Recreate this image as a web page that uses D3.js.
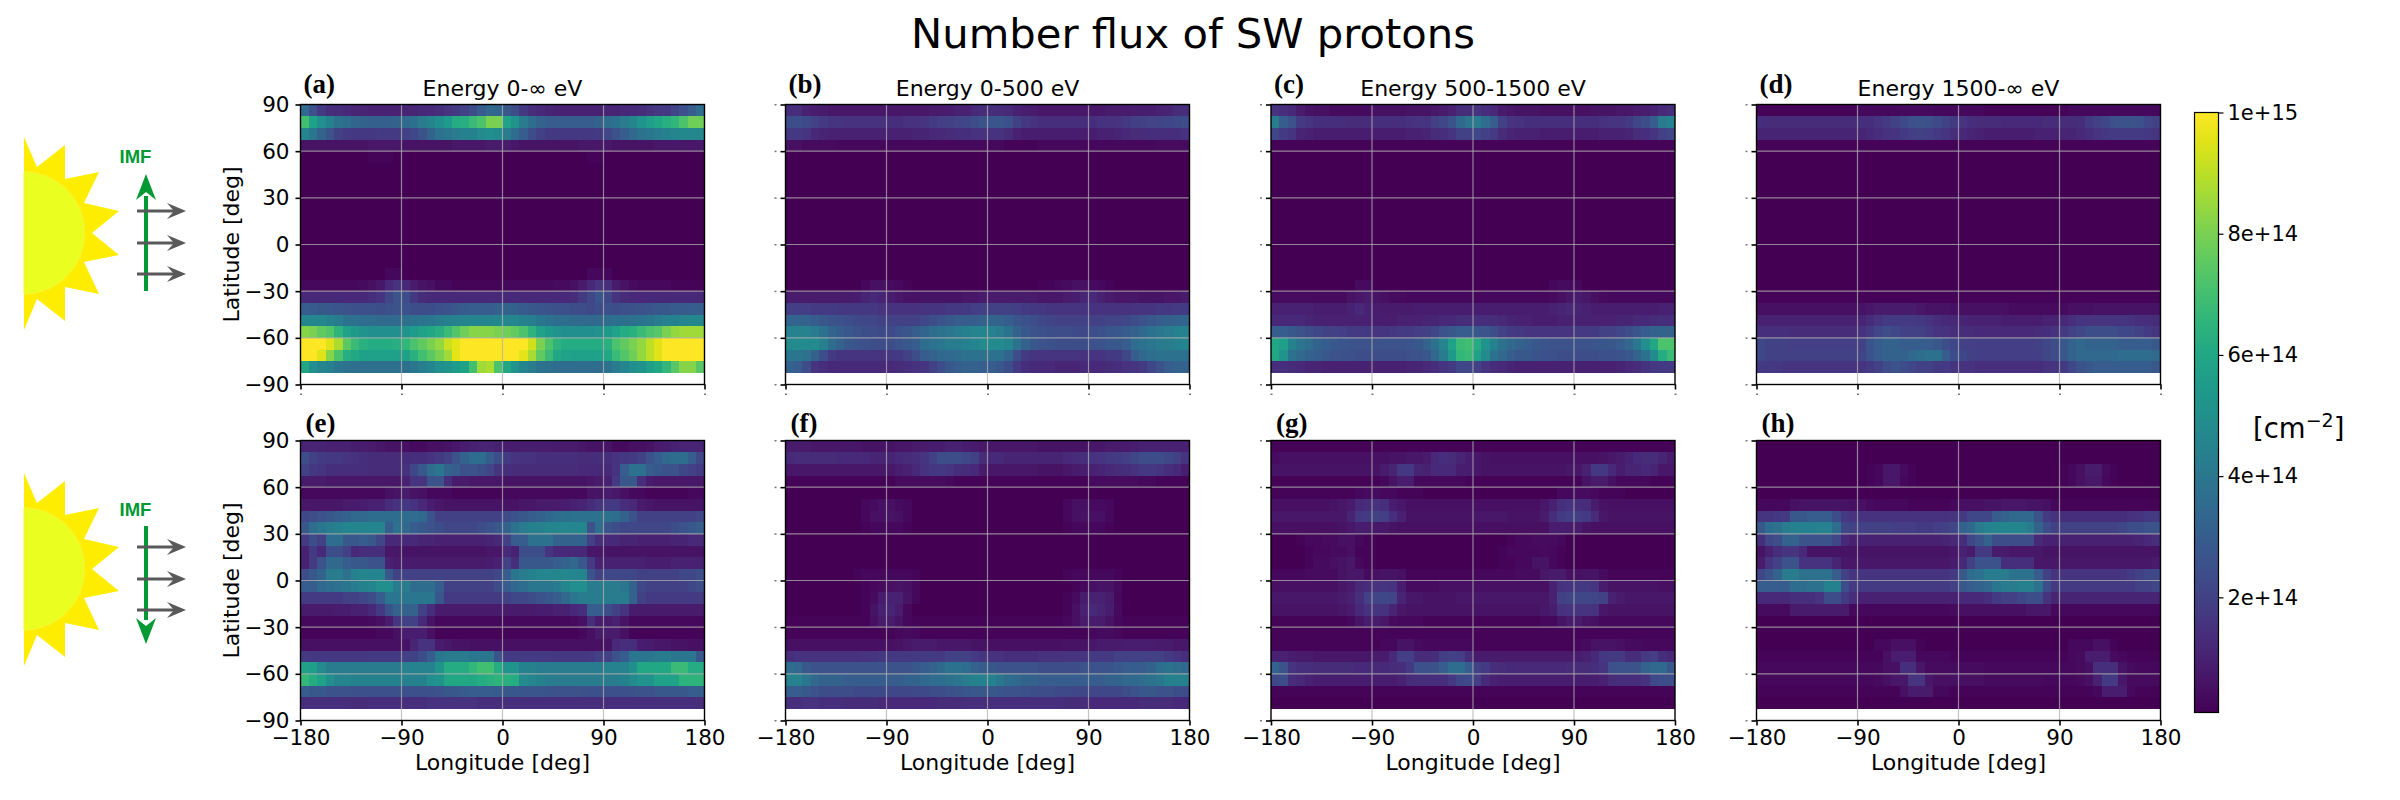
<!DOCTYPE html>
<html>
<head>
<meta charset="utf-8">
<script src="https://d3js.org/d3.v7.min.js"></script>
<style>
  body { margin: 0; background: #fff; }
  text { font-family: "DejaVu Sans"; fill: #000; }
</style>
</head>
<body>
<script>
/* flux per cell in units of 1e13 cm^-2, rows run from 90 deg down to -82.5 deg, columns are 7.5 deg wide */
var dark = [1,1,1,1,1,1,1,1,1,1,1,1,1,1,1,1,1,1,1,1,1,1,1,1,1,1,1,1,1,1,1,1,1,1,1,1,1,1,1,1,1,1,1,1,1,1,1,1];
var faint = [2,2,2,2,2,2,2,2,2,2,2,2,2,2,2,2,2,2,2,2,2,2,2,2,2,2,2,2,2,2,2,2,2,2,2,2,2,2,2,2,2,2,2,2,2,2,2,2];

var panelA = [
[35,25,18,14,13,12,11,11,10,10,10,10,11,11,12,12,14,16,18,20,24,30,34,33,28,24,17,14,12,11,10,10,10,10,10,10,11,11,12,12,13,15,17,18,21,25,30,36],
[70,58,50,44,38,36,33,32,31,31,31,32,35,37,42,46,50,55,62,63,68,72,80,80,58,52,42,36,32,30,30,30,30,30,30,32,36,38,42,46,52,56,60,63,66,72,78,78],
[46,40,32,26,20,18,17,17,17,18,18,18,20,22,26,32,38,40,42,44,44,48,50,48,42,36,30,24,20,18,17,17,17,17,17,18,22,26,30,34,38,40,42,44,46,47,47,47],
[6,6,6,6,6,6,6,6,7,7,7,7,6,6,6,6,6,6,7,7,7,7,8,8,8,7,6,6,6,6,6,6,6,7,7,7,7,6,6,6,6,6,7,7,7,7,7,7],
[1,1,1,1,1,1,1,1,2,2,2,1,1,1,1,1,1,1,1,1,1,1,1,1,1,1,1,1,1,1,1,1,1,1,2,2,1,1,1,1,1,1,1,1,1,1,1,1],
dark, dark, dark, dark, dark, dark, dark, dark, dark,
[1,1,1,1,1,1,1,1,1,1,3,3,1,1,1,1,1,1,1,1,1,1,1,1,1,1,1,1,1,1,1,1,1,1,3,3,3,1,1,1,1,1,1,1,1,1,1,1],
[3,3,3,3,3,3,3,4,5,7,12,15,12,8,6,5,3,3,2,2,2,2,2,2,3,3,3,3,3,3,4,4,5,8,12,16,14,8,6,4,3,3,3,3,2,2,2,2],
[12,12,12,12,12,12,12,12,14,16,22,26,24,17,13,12,12,12,12,12,12,12,12,12,12,12,12,12,12,12,12,12,13,18,22,27,22,16,13,12,12,12,12,12,12,12,12,12],
[30,29,28,28,27,26,25,25,25,24,25,26,26,24,24,24,25,26,28,29,30,30,30,32,32,31,29,28,27,26,25,25,24,24,23,24,25,24,25,25,26,27,28,28,29,29,30,30],
[47,47,47,44,42,38,38,36,36,35,35,35,37,38,39,40,42,44,45,46,46,46,46,47,47,47,44,43,40,38,36,36,35,34,34,35,36,37,37,38,39,40,42,44,44,46,47,47],
[82,80,76,73,65,58,54,52,50,50,50,50,52,55,58,60,63,68,73,78,82,82,82,80,78,76,72,65,58,54,52,50,50,50,50,52,54,58,62,64,68,72,74,80,84,86,86,86],
[100,100,100,95,88,75,68,64,62,62,62,63,66,72,76,80,84,92,96,100,100,100,100,100,100,100,100,93,80,72,65,62,62,62,62,62,64,72,76,80,84,90,95,100,100,100,100,100],
[100,100,95,82,72,63,60,57,57,57,57,57,57,64,70,75,80,86,96,100,100,100,100,100,100,100,96,87,76,68,60,58,57,57,57,58,60,68,73,78,84,90,95,100,100,100,100,100],
[60,50,46,44,40,38,37,37,37,37,37,37,37,40,43,46,50,52,55,58,70,86,88,72,60,52,46,42,38,37,36,36,36,36,36,36,38,42,46,50,52,56,60,66,74,82,82,74]
];

var panelB = [
[14,14,10,9,8,7,7,7,7,7,7,7,7,7,7,7,7,8,8,9,10,10,12,13,14,13,12,10,9,8,7,7,7,7,7,7,7,7,8,8,8,9,9,9,10,11,13,14],
[24,24,23,20,18,16,16,15,15,15,15,15,14,14,15,15,16,18,19,20,21,22,24,26,27,27,25,20,17,15,14,14,14,14,14,14,14,15,15,16,18,19,20,21,21,22,23,24],
[17,17,16,12,11,10,10,10,10,10,10,10,10,10,10,11,11,12,12,13,14,14,15,15,15,15,13,10,9,9,9,9,9,9,9,9,9,10,10,11,12,13,13,14,14,14,14,15],
[5,5,4,4,4,4,3,3,3,3,3,3,3,3,3,3,3,3,3,3,3,3,3,3,3,3,2,2,2,2,3,3,3,3,3,3,3,3,3,3,3,3,3,3,4,4,4,4],
dark, dark, dark, dark, dark, dark, dark, dark, dark, dark, dark,
[1,1,1,1,1,1,1,1,1,3,5,5,4,3,2,1,1,1,1,1,1,1,1,1,1,1,1,1,1,1,2,2,3,4,5,5,4,3,2,1,1,1,1,1,1,1,1,1],
[8,8,8,8,8,8,8,8,9,11,12,11,9,7,6,6,6,6,6,6,6,7,7,8,8,8,8,8,8,8,7,7,7,8,9,11,12,10,8,7,7,7,6,6,6,7,7,8],
[19,19,19,18,18,18,17,17,17,17,17,16,15,15,15,15,16,16,16,17,17,18,19,20,20,20,20,19,18,17,17,16,16,16,16,16,15,15,15,15,15,16,16,16,17,17,18,18],
[33,33,32,30,28,26,25,24,23,22,22,20,20,20,20,20,22,24,26,28,30,30,30,32,33,32,30,27,25,24,22,21,20,20,20,20,20,20,21,21,22,24,26,28,30,31,32,33],
[45,45,45,42,38,33,30,28,26,24,24,23,23,25,27,30,33,36,38,40,42,44,46,46,45,42,38,32,28,26,25,24,24,24,23,23,24,25,27,28,30,32,34,38,40,42,44,45],
[48,48,48,48,44,36,32,28,26,25,24,24,24,26,28,30,36,38,40,42,42,44,46,48,48,48,46,38,32,28,26,25,24,24,24,24,25,26,28,28,30,36,38,40,42,42,44,46],
[40,40,38,32,24,18,16,16,16,16,16,16,17,18,20,24,30,32,34,35,36,38,38,38,38,38,33,24,18,16,16,16,16,16,16,15,16,16,17,18,22,30,34,36,38,38,38,38],
[32,30,24,16,14,12,12,12,12,12,12,12,12,13,14,15,16,20,24,28,30,32,32,30,30,28,24,18,14,12,12,12,11,11,11,12,12,12,13,14,15,16,18,22,26,30,32,32]
];

var panelC = [
[16,14,12,8,6,5,5,4,4,4,4,4,5,5,5,5,6,6,6,7,8,10,13,14,16,14,12,8,7,6,6,6,5,5,5,5,5,5,6,6,6,7,7,8,9,10,12,14],
[42,30,26,18,16,14,14,14,14,13,13,13,14,14,14,14,15,16,16,20,22,26,34,40,42,36,30,20,16,15,14,14,14,14,14,14,14,14,14,15,16,16,18,22,24,30,42,44],
[22,18,16,11,10,9,9,9,9,9,9,9,9,9,9,9,10,10,11,13,14,16,20,20,22,20,18,13,11,10,10,10,9,9,9,9,9,9,9,10,10,10,11,13,14,16,20,22],
faint,
dark, dark, dark, dark, dark, dark, dark, dark, dark, dark, dark,
[1,1,1,1,1,1,1,1,1,1,4,4,1,1,1,1,1,1,1,1,1,1,1,1,1,1,1,1,1,1,1,1,1,3,4,4,3,1,1,1,1,1,1,1,1,1,1,1],
[4,4,4,4,4,4,4,4,4,6,7,8,6,5,4,4,3,3,3,3,3,3,3,3,3,3,3,3,3,3,3,3,3,4,5,7,8,7,5,4,3,3,3,3,3,3,3,3],
[10,10,10,10,10,9,9,9,9,10,12,10,9,8,8,8,8,9,9,9,9,9,9,9,9,9,9,9,9,9,9,9,9,10,11,12,11,10,9,9,9,9,9,9,9,9,10,10],
[12,12,12,12,11,10,10,10,10,10,10,10,9,9,9,10,10,10,11,11,12,12,13,14,14,14,13,12,11,10,10,9,9,9,10,10,10,10,10,10,10,11,11,12,12,13,14,14],
[30,30,28,26,24,22,20,20,19,18,18,17,16,16,17,18,18,19,20,22,26,28,30,30,28,27,24,20,18,17,16,16,16,16,16,16,18,18,18,20,20,22,24,27,30,32,32,32],
[60,56,44,40,36,32,30,28,27,26,26,26,26,26,26,26,27,28,32,38,46,58,68,70,62,52,44,38,34,32,30,28,27,26,26,26,26,26,27,27,28,30,34,40,50,60,72,72],
[60,52,38,34,32,30,28,26,25,25,24,24,24,24,24,24,25,26,28,34,42,54,66,68,58,48,38,34,30,28,28,26,25,25,24,24,24,24,24,25,25,26,28,32,38,48,62,68],
[14,14,13,12,11,11,10,10,10,10,10,10,10,10,10,10,11,11,12,14,16,18,22,22,20,16,13,12,11,10,10,10,10,10,10,10,10,10,10,10,10,11,12,13,15,17,18,18]
];

var panelD = [
[2,2,2,2,2,2,2,2,2,2,2,2,3,3,3,3,3,4,4,4,4,3,3,3,3,3,3,2,2,2,2,2,2,2,2,2,2,3,3,3,3,3,3,3,3,3,3,3],
[14,13,13,13,13,13,13,13,13,13,13,13,14,14,16,18,20,23,25,26,25,23,20,18,16,14,13,13,13,12,12,12,12,12,13,13,13,13,14,18,20,22,25,26,26,25,22,20],
[11,11,11,11,11,11,11,11,11,11,11,11,11,12,14,15,16,18,19,20,19,18,16,14,12,11,10,9,9,9,9,9,9,10,10,10,11,11,12,14,16,17,18,18,18,18,17,16],
faint,
dark, dark, dark, dark, dark, dark, dark, dark, dark, dark, dark, dark,
faint,
[5,5,5,5,5,5,5,5,5,5,5,5,6,7,8,8,8,8,8,7,6,6,6,5,5,5,5,5,5,5,4,4,4,4,4,4,4,5,5,5,6,6,6,6,6,6,6,6],
[10,10,10,10,10,10,10,10,10,10,10,10,11,13,16,18,18,18,18,17,16,14,12,12,11,10,10,10,10,9,9,9,9,9,10,10,12,14,16,16,16,16,16,16,15,14,14,13],
[14,14,14,14,13,13,13,13,13,13,13,13,15,18,22,24,22,20,20,20,18,16,15,14,13,13,12,12,12,12,12,12,12,13,14,15,18,20,22,24,24,24,24,22,22,20,18,16],
[22,20,20,20,19,19,19,19,19,19,19,19,20,26,30,32,32,30,30,30,30,28,24,22,20,19,19,19,19,19,19,19,19,20,22,24,28,32,34,32,32,32,32,30,30,30,30,28],
[22,20,20,20,20,20,20,20,20,20,20,20,21,26,30,32,32,32,34,36,38,38,30,24,22,20,19,19,19,19,19,19,19,19,22,24,28,32,34,34,34,34,34,36,36,36,36,34],
[18,17,17,16,16,16,16,16,16,16,16,16,16,18,20,24,26,24,22,20,20,18,18,16,15,15,14,14,14,14,14,14,14,14,15,16,18,22,26,28,30,30,30,30,30,30,30,28]
];

var panelE = [
[11,11,11,10,10,10,9,9,8,7,6,6,5,4,4,5,5,6,7,9,10,11,11,10,9,9,9,9,9,9,8,8,8,7,6,6,6,4,4,5,5,6,8,9,10,11,11,11],
[24,20,18,17,17,16,15,14,13,13,13,13,13,14,14,16,18,20,26,32,36,36,30,24,18,16,15,15,14,14,14,14,14,13,13,14,14,15,17,18,20,26,30,34,36,36,30,22],
[20,17,16,14,14,14,14,14,13,13,13,13,15,22,28,36,40,32,30,26,26,24,22,16,14,13,13,13,13,13,13,13,13,12,12,12,12,16,30,38,38,30,28,26,26,22,20,18],
[8,8,8,7,7,7,7,7,7,7,7,7,10,16,16,26,26,14,8,8,7,7,7,7,6,6,6,6,6,6,6,6,6,6,7,8,10,18,28,28,14,8,7,7,7,7,7,7],
[3,3,3,3,3,3,3,3,3,3,5,6,8,6,5,3,3,3,2,2,2,2,2,2,3,3,3,3,3,3,3,3,3,3,6,6,8,7,5,3,3,2,2,2,2,2,3,3],
[7,7,7,7,7,8,8,9,10,10,13,15,17,15,12,9,7,6,6,6,6,6,6,6,6,6,7,7,8,8,8,9,10,11,13,16,18,18,14,12,8,7,6,6,6,6,6,6],
[22,24,26,28,30,32,34,34,36,36,36,36,36,36,34,26,20,20,20,20,20,20,20,20,24,26,28,30,32,34,36,37,38,38,38,38,38,36,32,26,20,20,20,20,20,20,20,22],
[28,36,40,42,44,46,46,46,46,46,30,38,34,30,28,26,24,22,22,22,22,24,26,28,32,38,42,44,44,46,46,47,47,46,26,36,26,24,22,22,22,22,22,22,24,26,28,30],
[18,24,20,36,36,28,28,30,28,22,12,12,12,12,11,11,10,10,10,10,10,10,11,12,20,30,30,38,38,38,32,32,32,32,20,14,12,12,11,11,10,10,10,10,11,11,12,12],
[10,18,12,24,24,20,12,14,14,14,7,7,6,6,6,6,6,6,6,6,6,6,7,7,12,10,24,24,24,16,12,12,12,12,7,7,6,6,6,6,6,6,6,6,6,6,6,6],
[10,18,26,34,34,30,28,28,26,26,10,8,8,8,8,8,8,8,8,8,8,8,9,10,20,14,28,28,28,28,30,32,34,28,18,10,10,10,10,10,10,9,9,9,10,10,10,10],
[24,28,32,42,42,38,44,46,46,46,28,20,20,20,20,20,20,20,20,20,20,20,20,22,30,40,42,44,46,47,47,47,46,46,26,20,22,22,22,22,20,20,20,20,20,22,22,24],
[30,30,34,36,38,40,42,44,46,50,50,42,42,36,36,36,30,20,20,20,20,20,20,24,30,34,36,40,40,40,42,46,50,50,42,42,42,42,40,32,22,20,20,20,20,20,22,24],
[18,18,18,18,18,20,20,22,24,30,40,40,40,40,40,40,28,18,18,18,18,18,18,18,20,22,22,24,26,28,30,34,40,42,42,42,42,42,42,32,20,18,18,18,18,18,18,18],
[8,8,8,8,9,9,10,10,12,18,26,32,32,32,20,14,8,8,8,8,8,8,8,8,8,8,8,8,9,9,10,10,12,14,30,30,24,20,16,8,8,8,8,8,8,8,8,8],
[3,3,3,3,3,3,3,3,4,5,8,16,20,20,12,6,3,3,3,3,3,3,3,3,3,3,3,3,3,3,3,3,4,5,14,8,8,10,6,3,3,3,3,3,3,3,3,3],
[2,2,2,2,2,2,2,2,2,3,3,5,9,9,9,5,2,2,2,2,2,2,2,2,2,2,2,2,2,2,2,2,2,3,5,8,8,8,5,2,2,2,2,2,2,2,2,2],
[5,5,5,5,5,5,5,5,5,5,5,5,6,11,15,15,8,7,6,6,5,5,5,5,5,5,5,5,5,5,5,5,5,5,5,5,6,12,14,14,9,8,7,7,6,6,5,5],
[18,17,17,17,17,17,17,17,18,18,18,18,20,20,24,30,40,42,42,42,40,40,40,26,18,18,18,18,18,18,17,17,17,17,18,20,20,26,30,40,40,40,42,42,40,40,40,28],
[58,56,48,42,42,42,42,42,42,42,42,42,45,45,45,45,52,62,62,62,66,70,70,62,52,52,44,44,42,42,42,42,42,42,42,42,45,45,45,50,60,60,60,60,68,68,62,62],
[67,62,58,50,46,46,44,44,44,44,44,44,44,44,44,50,52,60,60,60,60,62,64,65,64,62,48,46,44,42,42,42,42,42,42,42,42,42,44,48,52,52,58,58,58,65,65,65],
[30,28,28,26,26,26,25,25,25,25,25,25,25,25,25,25,26,28,28,29,30,30,30,29,28,28,27,27,27,26,26,26,26,25,25,25,25,25,25,25,26,26,28,28,28,28,30,30],
[14,14,14,14,14,14,13,13,14,14,14,14,14,14,14,15,15,15,15,15,15,14,14,14,14,14,14,14,14,14,14,14,14,14,14,14,14,14,14,14,14,14,14,14,14,14,14,14]
];

var panelF = [
[8,8,8,7,7,7,7,7,7,6,6,6,6,7,7,8,8,9,9,10,10,9,8,7,7,7,7,7,7,7,6,6,6,6,6,6,7,7,8,8,8,9,10,10,10,10,10,10],
[12,13,13,13,13,13,12,12,12,12,11,11,11,12,13,14,16,20,24,24,24,22,20,13,12,12,11,11,11,11,11,11,11,12,13,14,15,16,17,18,19,22,24,24,24,22,20,16],
[7,7,7,7,7,7,7,7,7,7,7,7,7,9,10,12,15,17,17,16,14,13,12,8,7,7,7,7,7,7,6,6,6,7,8,9,10,11,12,13,14,15,17,17,16,14,12,9],
[2,2,2,2,2,2,2,2,2,2,2,2,2,4,4,4,4,4,4,3,2,2,2,2,2,2,2,2,2,2,2,2,2,2,2,2,4,4,4,4,4,4,3,3,2,2,2,2],
dark,
[1,1,1,1,1,1,1,1,1,3,4,5,5,4,3,1,1,1,1,1,1,1,1,1,1,1,1,1,1,1,1,1,1,3,5,5,4,4,3,1,1,1,1,1,1,1,1,1],
[1,1,1,1,1,1,1,1,1,3,5,5,6,5,3,1,1,1,1,1,1,1,1,1,1,1,1,1,1,1,1,1,1,3,5,6,5,5,3,1,1,1,1,1,1,1,1,1],
[1,1,1,1,1,1,1,1,1,2,3,3,3,3,2,1,1,1,1,1,1,1,1,1,1,1,1,1,1,1,1,1,1,2,3,3,3,3,2,1,1,1,1,1,1,1,1,1],
dark, dark, dark,
[1,1,1,1,1,1,1,1,2,3,3,3,3,3,3,2,1,1,1,1,1,1,1,1,1,1,1,1,1,1,1,1,1,2,3,3,3,3,3,2,1,1,1,1,1,1,1,1],
[1,1,1,1,1,1,1,1,1,2,3,4,5,6,5,3,1,1,1,1,1,1,1,1,1,1,1,1,1,1,1,1,1,1,2,3,5,6,6,4,1,1,1,1,1,1,1,1],
[1,1,1,1,1,1,1,1,1,2,4,8,10,10,6,3,1,1,1,1,1,1,1,1,1,1,1,1,1,1,1,1,1,2,4,8,10,10,8,3,1,1,1,1,1,1,1,1],
[1,1,1,1,1,1,1,1,1,2,6,10,11,8,3,1,1,1,1,1,1,1,1,1,1,1,1,1,1,1,1,1,1,2,5,10,12,11,9,4,1,1,1,1,1,1,1,1],
[2,2,2,2,2,2,2,2,2,2,5,8,8,6,3,2,2,2,2,2,2,2,2,2,2,2,2,2,2,2,2,2,2,3,5,8,8,8,6,3,2,2,2,2,2,2,2,2],
[2,2,2,2,2,2,2,2,2,2,2,2,2,3,4,3,2,2,2,2,2,2,2,2,2,2,2,2,2,2,2,2,2,2,2,2,3,4,4,3,2,2,2,2,2,2,2,2],
[5,5,5,5,5,5,5,5,5,5,5,5,5,6,7,8,8,8,7,7,7,7,6,6,5,5,5,5,5,5,5,5,5,6,6,6,7,8,8,8,9,9,9,9,8,8,7,7],
[14,15,15,15,15,15,15,15,15,16,16,17,17,17,17,18,18,18,18,20,20,20,18,16,15,15,14,14,14,14,15,15,15,16,16,16,18,18,18,20,20,20,20,20,20,18,16,14],
[36,34,28,26,26,26,26,26,26,26,26,26,26,26,26,28,30,32,34,38,38,36,32,30,28,26,26,26,26,26,24,24,24,24,24,26,26,26,26,28,30,30,30,32,36,38,36,34],
[44,45,40,34,32,32,32,30,30,30,30,30,30,30,32,32,34,36,36,38,40,42,44,44,44,40,36,34,32,32,30,30,30,30,30,30,30,30,32,32,34,34,36,38,40,44,44,44],
[30,30,28,26,24,24,24,24,23,23,23,23,22,22,22,23,23,24,24,25,26,27,28,28,28,27,26,26,25,24,24,24,23,23,22,22,22,22,22,22,24,26,28,28,26,26,24,24],
[14,14,15,15,14,14,14,13,13,13,13,12,12,12,12,12,12,12,13,13,13,14,14,14,14,14,14,14,14,14,14,14,14,13,13,13,12,12,12,12,12,12,13,13,13,13,12,12]
];

var panelG = [
faint,
[4,5,5,5,5,5,5,5,5,5,5,5,5,5,6,6,7,7,8,12,14,13,11,9,7,6,5,5,5,5,5,5,5,5,5,5,5,5,5,6,7,8,10,12,13,13,11,8],
[6,6,6,6,6,6,6,6,6,6,6,6,6,8,11,17,17,11,10,12,12,12,9,9,7,6,6,6,6,6,6,6,6,6,6,7,7,10,17,17,12,9,11,11,12,11,7,7],
[2,2,2,2,2,2,2,2,2,2,2,2,2,3,6,9,9,3,3,3,3,3,3,2,2,2,2,2,2,2,2,2,2,2,2,2,2,6,8,8,5,3,3,3,3,2,2,2],
[2,2,2,2,2,2,2,2,2,2,3,4,4,3,3,2,2,2,1,1,1,1,1,1,1,1,1,1,1,1,1,1,1,1,3,3,4,4,3,2,2,2,1,1,1,1,1,1],
[5,5,5,5,5,5,5,6,7,8,12,13,15,14,9,7,5,5,5,5,5,5,5,5,5,5,5,5,5,5,5,5,7,10,14,15,14,13,8,6,5,5,5,5,5,5,5,5],
[7,7,7,7,7,7,7,7,7,11,17,18,20,19,14,10,6,6,6,6,6,6,6,6,7,7,7,7,6,6,6,6,8,14,18,19,19,18,13,7,6,6,6,6,6,6,6,6],
[5,5,5,5,5,5,5,5,6,7,9,8,7,7,6,5,5,5,5,5,5,5,5,5,5,5,5,5,5,5,5,5,5,9,9,8,8,6,5,5,5,5,5,5,5,5,5,5],
[1,1,1,2,3,3,4,4,5,5,3,2,1,1,1,1,1,1,1,1,1,1,1,1,1,1,1,1,2,3,3,4,4,4,3,1,1,1,1,1,1,1,1,1,1,1,1,1],
[1,1,1,1,2,3,3,4,4,5,2,2,1,1,1,1,1,1,1,1,1,1,1,1,1,1,1,2,3,3,3,3,4,3,2,1,1,1,1,1,1,1,1,1,1,1,1,1],
[1,1,1,1,2,4,4,5,6,7,3,2,1,1,1,1,1,1,1,1,1,1,1,1,1,1,1,2,2,3,3,6,6,3,2,1,1,1,1,1,1,1,1,1,1,1,1,1],
[3,3,3,3,4,4,4,4,6,7,7,4,5,6,6,5,2,2,2,2,2,2,2,2,3,3,3,3,3,4,4,4,7,8,8,5,5,6,6,4,2,2,2,2,2,2,2,2],
[5,5,5,5,5,5,5,5,7,8,12,13,15,16,15,9,4,4,4,4,5,5,5,5,5,5,5,5,5,5,5,5,5,10,15,16,17,17,16,8,6,6,6,6,6,6,5,5],
[7,7,7,7,7,7,7,7,8,10,14,20,21,22,21,11,7,7,6,6,6,6,7,7,7,7,7,7,7,7,7,7,7,10,20,21,22,22,21,20,10,8,7,7,7,7,7,7],
[6,6,6,6,6,6,6,6,7,8,12,15,16,15,11,7,6,6,6,6,6,6,6,6,6,6,6,6,6,6,6,6,7,9,15,16,16,16,15,7,6,6,6,6,6,6,6,6],
[2,2,2,2,2,2,2,2,2,3,6,9,8,7,4,3,3,3,2,2,2,2,2,2,2,2,2,2,2,2,2,2,3,3,6,8,8,6,5,3,3,3,3,3,3,3,3,3],
faint,
[2,2,2,2,2,2,2,2,2,2,2,2,2,3,3,6,6,4,3,3,3,3,3,3,2,2,2,2,2,2,2,2,2,2,2,2,3,4,6,6,6,5,4,4,3,3,3,3],
[10,10,9,8,8,7,7,7,7,7,7,7,8,8,12,19,19,13,13,14,19,20,19,13,8,8,8,8,8,8,8,8,8,8,8,8,9,10,12,17,18,18,13,13,18,19,14,12],
[32,26,16,14,14,13,13,13,13,13,12,12,12,12,13,14,18,25,25,26,30,36,36,30,20,18,14,13,12,12,12,12,12,12,12,13,13,13,14,16,25,26,26,26,32,34,34,28],
[22,24,14,12,10,9,9,9,9,9,9,9,9,9,9,10,13,14,14,14,14,17,22,23,19,12,10,9,9,9,9,9,9,9,9,9,9,9,9,10,13,14,14,14,15,23,24,24],
faint,
dark
];

var panelH = [
dark, dark,
[1,1,1,1,1,1,1,1,1,1,1,1,1,2,3,7,7,4,2,1,1,1,1,1,1,1,1,1,1,1,1,1,1,1,1,1,2,3,5,8,8,4,2,1,1,1,1,1],
[1,1,1,1,1,1,1,1,1,1,1,1,1,2,3,7,7,3,2,1,1,1,1,1,1,1,1,1,1,1,1,1,1,1,1,1,2,3,5,7,7,3,2,1,1,1,1,1],
dark,
[3,3,3,3,5,6,6,6,6,6,6,5,5,4,3,3,3,3,2,2,2,2,2,3,5,5,5,6,6,7,7,7,6,6,5,3,2,2,2,2,2,2,2,2,2,2,2,2],
[16,16,17,18,28,28,30,30,30,24,18,15,15,15,15,15,15,15,15,15,15,15,15,16,18,22,22,22,30,32,34,34,34,26,18,15,14,14,14,14,14,14,14,14,15,16,18,18],
[28,36,38,42,44,44,44,45,45,36,22,20,20,20,20,20,19,19,19,18,18,19,20,22,32,34,42,45,46,46,46,46,42,32,24,20,20,20,20,20,20,20,20,22,24,24,26,26],
[14,22,24,32,32,26,26,26,26,22,12,10,10,10,10,10,10,10,10,10,10,10,11,12,14,22,26,32,24,24,24,24,24,12,10,10,10,10,10,10,10,10,10,10,10,11,12,14],
[6,10,14,16,16,12,6,6,6,6,6,6,6,6,6,6,6,6,6,6,6,6,6,7,10,8,18,18,8,8,7,7,7,7,6,6,6,6,6,6,6,6,6,6,6,6,6,6],
[8,16,20,26,26,15,15,15,15,11,7,7,7,7,7,7,7,7,7,7,7,7,7,8,12,20,26,26,26,14,14,14,14,7,7,7,7,7,7,7,7,7,7,7,7,7,7,8],
[22,26,32,42,42,38,38,38,38,30,20,16,16,16,16,16,16,16,16,16,16,16,16,18,28,36,38,42,42,42,38,38,38,30,20,16,16,16,16,16,16,16,16,16,18,20,22,22],
[30,30,30,30,36,36,38,38,44,44,24,18,18,18,18,18,18,18,18,18,18,18,18,20,28,30,32,34,40,42,42,44,44,38,24,18,18,18,18,18,18,18,18,18,18,20,20,22],
[12,12,12,12,14,14,14,16,24,24,18,14,10,10,10,10,10,10,10,10,10,10,10,10,12,12,12,14,18,20,20,22,24,24,15,11,11,11,11,11,11,11,11,11,11,11,11,11],
[4,4,4,4,8,8,8,8,8,8,8,3,3,3,3,3,3,3,3,3,3,3,3,4,5,5,5,5,5,5,5,5,7,7,7,3,3,3,3,3,3,3,3,3,3,3,3,3],
dark, dark,
[1,1,1,1,1,1,1,1,1,1,1,1,1,1,3,3,5,5,5,2,1,1,1,1,1,1,1,1,1,1,1,1,1,1,1,1,1,3,3,3,5,5,2,1,1,1,1,1],
[2,2,2,2,2,2,2,2,2,2,2,2,2,2,2,5,9,9,9,3,3,3,3,2,2,2,2,2,2,2,2,2,2,2,2,2,2,3,4,9,9,9,4,3,2,2,2,2],
[3,3,3,3,3,3,3,3,3,3,3,3,3,3,3,5,5,14,14,7,4,4,4,4,4,4,4,3,3,3,3,3,3,3,3,3,3,3,4,5,14,14,14,6,4,3,3,3],
[3,3,3,3,3,3,3,3,3,3,3,3,3,3,4,5,7,7,16,16,7,5,5,5,5,5,5,4,4,4,4,4,4,4,3,3,3,3,4,5,10,18,18,7,4,4,4,4],
[2,2,2,2,2,2,2,2,2,2,2,2,2,2,2,2,2,5,8,8,8,3,3,2,2,2,2,2,2,2,2,2,2,2,2,2,2,2,2,2,3,9,9,9,3,2,2,2],
dark
];

var panelData = [panelA, panelB, panelC, panelD, panelE, panelF, panelG, panelH];
var panelLetters = ["(a)", "(b)", "(c)", "(d)", "(e)", "(f)", "(g)", "(h)"];
var energyTitles = ["Energy 0-\u221E eV", "Energy 0-500 eV", "Energy 500-1500 eV", "Energy 1500-\u221E eV"];
var lonTicks = [-180, -90, 0, 90, 180];
var latTicks = [-90, -60, -30, 0, 30, 60, 90];
var colorTicks = [20, 40, 60, 80, 100];
var colorTickLabels = ["2e+14", "4e+14", "6e+14", "8e+14", "1e+15"];
var colorDomain = [1, 100];

/*************************************************************************************************/
/* Layout */

var panelLeft = [300.5, 785.5, 1271, 1756.5];
var panelTop = [104.5, 440.5];
var panelWidth = 404;
var panelHeight = 280;
var cellDeg = 7.5;

var svg = d3.select("body").append("svg")
    .attr("width", 2400)
    .attr("height", 800);

var x = d3.scaleLinear().domain([-180, 180]).range([0, panelWidth]);
var y = d3.scaleLinear().domain([-90, 90]).range([panelHeight, 0]);
var color = d3.scaleSequential(d3.interpolateViridis).domain(colorDomain);
var degFormat = d3.format("d");

svg.append("text")
    .attr("x", 1193).attr("y", 48)
    .attr("text-anchor", "middle")
    .style("font-size", "41.7px")
    .text("Number flux of SW protons");

/*************************************************************************************************/
/* Panels */

panelData.forEach(function(rows, p) {
  var col = p % 4, row = Math.floor(p / 4);
  var g = svg.append("g")
      .attr("transform", "translate(" + panelLeft[col] + "," + panelTop[row] + ")");

  rows.forEach(function(values, i) {
    var lat = 90 - i * cellDeg;
    g.append("g").selectAll("rect")
        .data(values)
        .enter().append("rect")
        .attr("x", function(d, j) { return x(-180 + j * cellDeg); })
        .attr("y", y(lat))
        .attr("width", x(cellDeg) - x(0))
        .attr("height", y(lat - cellDeg) - y(lat))
        .attr("shape-rendering", "crispEdges")
        .attr("fill", function(d) { return color(d); });
  });

  // grid lines sit over the cells
  g.selectAll("line.gx").data(lonTicks.slice(1, 4)).enter().append("line")
      .attr("x1", function(d) { return x(d); }).attr("x2", function(d) { return x(d); })
      .attr("y1", 0).attr("y2", panelHeight)
      .attr("stroke", "#b0b0b0").attr("stroke-opacity", 0.75).attr("stroke-width", 1.2);
  g.selectAll("line.gy").data(latTicks.slice(1, 6)).enter().append("line")
      .attr("x1", 0).attr("x2", panelWidth)
      .attr("y1", function(d) { return y(d); }).attr("y2", function(d) { return y(d); })
      .attr("stroke", "#b0b0b0").attr("stroke-opacity", 0.75).attr("stroke-width", 1.2);

  var xAxis = d3.axisBottom(x).tickValues(lonTicks).tickSize(5).tickPadding(4);
  var yAxis = d3.axisLeft(y).tickValues(latTicks).tickSize(5).tickPadding(6);
  if (row == 0) xAxis.tickFormat("");
  else xAxis.tickFormat(degFormat);
  if (col != 0) yAxis.tickFormat("");
  else yAxis.tickFormat(degFormat);

  var gx = g.append("g").attr("transform", "translate(0," + panelHeight + ")").call(xAxis);
  var gy = g.append("g").call(yAxis);
  [gx, gy].forEach(function(a) {
    a.select(".domain").remove();
    a.selectAll("line").attr("stroke", "#000").attr("stroke-width", 1.6);
    a.selectAll("text").style("font-size", "21.5px");
  });

  // leftover specks next to the unlabelled ticks
  if (row == 0) gx.selectAll(".tick").append("rect")
      .attr("x", -1).attr("y", 9).attr("width", 2).attr("height", 1.5).attr("fill", "#777");
  if (col != 0) gy.selectAll(".tick").append("rect")
      .attr("x", -11).attr("y", -1).attr("width", 2).attr("height", 1.5).attr("fill", "#777");

  g.append("rect")
      .attr("width", panelWidth).attr("height", panelHeight)
      .attr("fill", "none").attr("stroke", "#000").attr("stroke-width", 1.4);

  if (row == 0) {
    g.append("text")
        .attr("x", panelWidth / 2).attr("y", -9)
        .attr("text-anchor", "middle")
        .style("font-size", "22px")
        .text(energyTitles[col]);
  } else {
    g.append("text")
        .attr("x", panelWidth / 2).attr("y", panelHeight + 49)
        .attr("text-anchor", "middle")
        .style("font-size", "22px")
        .text("Longitude [deg]");
  }
  if (col == 0) {
    g.append("text")
        .attr("transform", "translate(-62," + (panelHeight / 2) + ") rotate(-90)")
        .attr("text-anchor", "middle")
        .style("font-size", "22px")
        .text("Latitude [deg]");
  }

  g.append("text")
      .attr("x", 3 + (row * 2)).attr("y", row == 0 ? -12 : -9)
      .style("font-family", "Liberation Serif")
      .style("font-weight", "bold")
      .style("font-size", "27px")
      .text(panelLetters[p]);
});

/*************************************************************************************************/
/* Colour bar */

var cbX = 2194.5, cbW = 24, cbTop = 112.5, cbH = 600;
var cbScale = d3.scaleLinear().domain(colorDomain).range([cbH, 0]);

var defs = svg.append("defs");
var grad = defs.append("linearGradient")
    .attr("id", "viridisBar")
    .attr("x1", 0).attr("y1", 1).attr("x2", 0).attr("y2", 0);
d3.range(0, 1.001, 0.05).forEach(function(t) {
  grad.append("stop").attr("offset", t).attr("stop-color", d3.interpolateViridis(t));
});

var cb = svg.append("g").attr("transform", "translate(" + cbX + "," + cbTop + ")");
cb.append("rect")
    .attr("width", cbW).attr("height", cbH)
    .attr("fill", "url(#viridisBar)")
    .attr("stroke", "#000").attr("stroke-width", 1.2);
var cbAxis = cb.append("g")
    .attr("transform", "translate(" + cbW + ",0)")
    .call(d3.axisRight(cbScale).tickValues(colorTicks).tickSize(5).tickPadding(4)
        .tickFormat(function(d, i) { return colorTickLabels[i]; }));
cbAxis.select(".domain").remove();
cbAxis.selectAll("line").attr("stroke", "#000").attr("stroke-width", 1.2);
cbAxis.selectAll("text").style("font-size", "21px");

var unit = svg.append("text").attr("x", 2253).attr("y", 438).style("font-size", "27.5px");
unit.append("tspan").text("[cm");
unit.append("tspan").attr("dy", -11).style("font-size", "19px").text("\u22122");
unit.append("tspan").attr("dy", 11).text("]");

/*************************************************************************************************/
/* Sun and IMF sketches */

function drawSketch(dy, up) {
  var s = svg.append("g").attr("transform", "translate(0," + dy + ")");
  s.append("polygon")
      .attr("points", "24,137 37,167 65,145 65,179 99,172 84,203 119,211 92,233 119,255 84,262 99,294 65,287 65,321 37,299 24,330")
      .attr("fill", "#ffed00");
  s.append("path")
      .attr("d", "M24,171.5 A61,61.5 0 0 1 24,294.5 Z")
      .attr("fill", "#eaff1f").attr("stroke", "#ffef30").attr("stroke-width", 1);

  s.append("text")
      .attr("x", 135.5).attr("y", up ? 163 : 180)
      .attr("text-anchor", "middle")
      .style("font-family", "Liberation Sans").style("font-weight", "bold").style("font-size", "18.5px")
      .style("fill", "#009933")
      .text("IMF");

  var y1 = up ? 291 : 190, y2 = up ? 196 : 284, tip = up ? 174 : 308, base = up ? 200 : 282, notch = up ? 192 : 290;
  s.append("line").attr("x1", 146).attr("x2", 146).attr("y1", y1).attr("y2", y2)
      .attr("stroke", "#009933").attr("stroke-width", 4);
  s.append("polygon")
      .attr("points", "146," + tip + " 156," + base + " 146," + notch + " 136," + base)
      .attr("fill", "#009933");

  [211, 243, 274].forEach(function(ay) {
    s.append("line").attr("x1", 137).attr("x2", 182).attr("y1", ay).attr("y2", ay)
        .attr("stroke", "#595959").attr("stroke-width", 3);
    s.append("polygon")
        .attr("points", "186," + ay + " 167," + (ay + 8) + " 174," + ay + " 167," + (ay - 8))
        .attr("fill", "#595959");
  });
}

drawSketch(0, true);
drawSketch(336, false);
</script>
</body>
</html>
